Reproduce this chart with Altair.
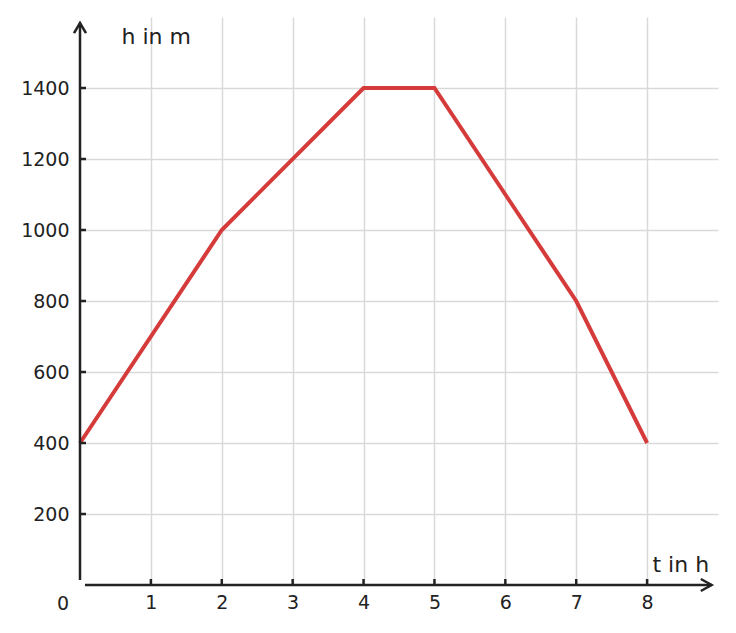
import altair as alt
import pandas as pd

# data
t_values = [0, 2, 4, 5, 7, 8]
h_values = [400, 1000, 1400, 1400, 800, 400]

x_ticks = [1, 2, 3, 4, 5, 6, 7, 8]
y_ticks = [200, 400, 600, 800, 1000, 1200, 1400]

x_domain = [0, 9]
y_domain = [0, 1600]

# axis line extents (data units)
x_axis_start, x_axis_end = 0.07, 8.91
y_axis_start, y_axis_end = 14, 1583

FONT = "DejaVu Sans"
INK = "#222222"
RED = "#d63b3b"

line_df = pd.DataFrame({"t": t_values, "h": h_values})
xt_df = pd.DataFrame({"t": x_ticks})
yt_df = pd.DataFrame({"h": y_ticks})

xs = alt.Scale(domain=x_domain, nice=False, zero=False)
ys = alt.Scale(domain=y_domain, nice=False, zero=False)

line = alt.Chart(line_df).mark_line(color=RED, strokeWidth=4, strokeJoin="miter").encode(
    x=alt.X("t:Q", scale=xs, axis=alt.Axis(
        values=x_ticks, format="d", grid=True, gridColor="#d9d9d9", gridWidth=1.5,
        domain=False, ticks=False, tickSize=0, labelPadding=8,
        labelFont=FONT, labelFontSize=19, labelColor=INK,
        title="t in h", titleFont=FONT, titleFontSize=22, titleFontWeight="normal",
        titleColor=INK, titleAlign="left", titleBaseline="alphabetic",
        titleX=572, titleY=-14, titleAngle=0)),
    y=alt.Y("h:Q", scale=ys, axis=alt.Axis(
        values=y_ticks, format="d", grid=True, gridColor="#d9d9d9", gridWidth=1.5,
        domain=False, ticks=False, tickSize=0, labelPadding=11,
        labelFont=FONT, labelFontSize=19, labelColor=INK,
        title="h in m", titleFont=FONT, titleFontSize=22, titleFontWeight="normal",
        titleColor=INK, titleAlign="left", titleBaseline="alphabetic",
        titleX=41, titleY=26, titleAngle=0)),
)

y_axis_line = alt.Chart().mark_rule(color=INK, strokeWidth=2.5).encode(
    x=alt.datum(0, scale=xs), y=alt.datum(y_axis_start, scale=ys), y2=alt.datum(y_axis_end)
)
x_axis_line = alt.Chart().mark_rule(color=INK, strokeWidth=2.5).encode(
    y=alt.datum(0, scale=ys), x=alt.datum(x_axis_start, scale=xs), x2=alt.datum(x_axis_end)
)

y_arrow = alt.Chart().mark_point(
    shape="M-1,1.7L0,0L1,1.7", size=144, filled=False, strokeWidth=2.5, color=INK, opacity=1
).encode(x=alt.datum(0, scale=xs), y=alt.datum(y_axis_end, scale=ys))
x_arrow = alt.Chart().mark_point(
    shape="M-1.8,-1L0,0L-1.8,1", size=144, filled=False, strokeWidth=2.5, color=INK, opacity=1
).encode(x=alt.datum(x_axis_end, scale=xs), y=alt.datum(0, scale=ys))

y_tick_marks = alt.Chart(yt_df).mark_tick(
    orient="horizontal", size=6, thickness=2.5, color=INK, xOffset=3, opacity=1
).encode(x=alt.datum(0, scale=xs), y=alt.Y("h:Q", scale=ys))
x_tick_marks = alt.Chart(xt_df).mark_tick(
    orient="vertical", size=6, thickness=2.5, color=INK, yOffset=-3, opacity=1
).encode(x=alt.X("t:Q", scale=xs), y=alt.datum(0, scale=ys))

zero_label = alt.Chart().mark_text(
    text="0", font=FONT, fontSize=19, color=INK, dx=-17, dy=19,
    align="center", baseline="middle"
).encode(x=alt.datum(0, scale=xs), y=alt.datum(0, scale=ys))

chart = alt.layer(
    line, y_axis_line, x_axis_line, y_tick_marks, x_tick_marks, y_arrow, x_arrow, zero_label
).properties(
    width=638, height=568,
    autosize=alt.AutoSizeParams(type="none"),
    padding={"left": 72, "top": 9, "right": 8, "bottom": 40},
    background="white",
).configure_view(stroke=None)

chart.save("out.html", embed_options={"renderer": "svg", "actions": False})
